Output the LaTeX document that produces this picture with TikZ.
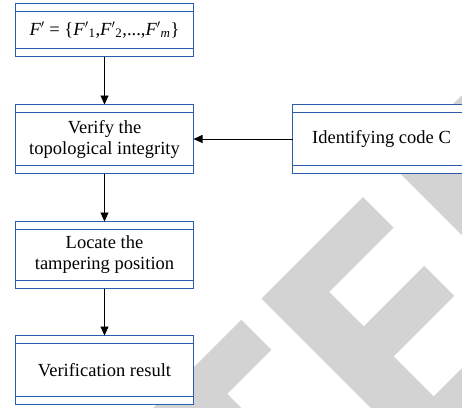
\documentclass[tikz,border=0pt]{standalone}
\usepackage{fontspec}
\setmainfont{Liberation Serif}
\usetikzlibrary{arrows.meta}

\definecolor{framecol}{RGB}{44,92,172}
\definecolor{markgray}{RGB}{211,211,211}

\tikzset{
  stage/.style={
    fill=white, outer sep=0pt,
    minimum width=178bp, inner sep=0pt, align=center,
    font=\fontsize{18.5bp}{21bp}\selectfont},
  stripline/.style={draw=framecol, line width=1.5bp},
  flow/.style={draw=black, line width=0.9bp, -{Triangle[length=9bp,width=8bp]}},
  watermark/.style={fill=markgray, draw=none}
}

\begin{document}
\begin{tikzpicture}[x=1bp, y=-1bp]
  \useasboundingbox (0,0) rectangle (462,407);
  \clip (0,0) rectangle (462,407);

  % light grey background lettering
  \path[watermark] (261.5,298.5) -- (363,197) -- (393.5,227.5) -- (329.25,291.75)
    -- (363.75,326.25) -- (424.25,265.75) -- (454.25,295.75) -- (393.75,356.25)
    -- (433.75,396.25) -- (480,350) -- (480,420) -- (383,420) -- cycle;
  \path[watermark] (391.85,165.15) -- (480,77) -- (480,253.3) -- cycle;
  \path[watermark] (241.35,319.65) -- (271.35,349.65) -- (227.15,393.85)
    -- (253.3,420) -- (141,420) -- cycle;

  % process boxes
  \node[stage, minimum height=53bp] (fset) at (104.5,30)
    {\textit{F}$'$ = \{\textit{F}$'$\textsubscript{1},\textit{F}$'$\textsubscript{2},...,\textit{F}$'$\textsubscript{\textit{m}}\}};
  \node[stage, minimum height=69bp] (verify) at (104.5,139)
    {Verify the\\topological integrity};
  \node[stage, minimum height=69bp] (code) at (381.5,139)
    {Identifying code C};
  \node[stage, minimum height=67bp] (locate) at (104.5,255)
    {Locate the\\tampering position};
  \node[stage, minimum height=69bp] (result) at (104.5,370)
    {Verification result};

  % blue frame with thin header and footer strips round every box
  \foreach \n in {fset,verify,code,locate,result}
    \draw[stripline]
      (\n.north west) rectangle (\n.south east)
      ([yshift=-8bp]\n.north west) -- ([yshift=-8bp]\n.north east)
      ([yshift=8bp]\n.south west) -- ([yshift=8bp]\n.south east);

  % connectors
  \draw[flow] (fset) -- (verify);
  \draw[flow] (code) -- (verify);
  \draw[flow] (verify) -- (locate);
  \draw[flow] (locate) -- (result);
\end{tikzpicture}
\end{document}
